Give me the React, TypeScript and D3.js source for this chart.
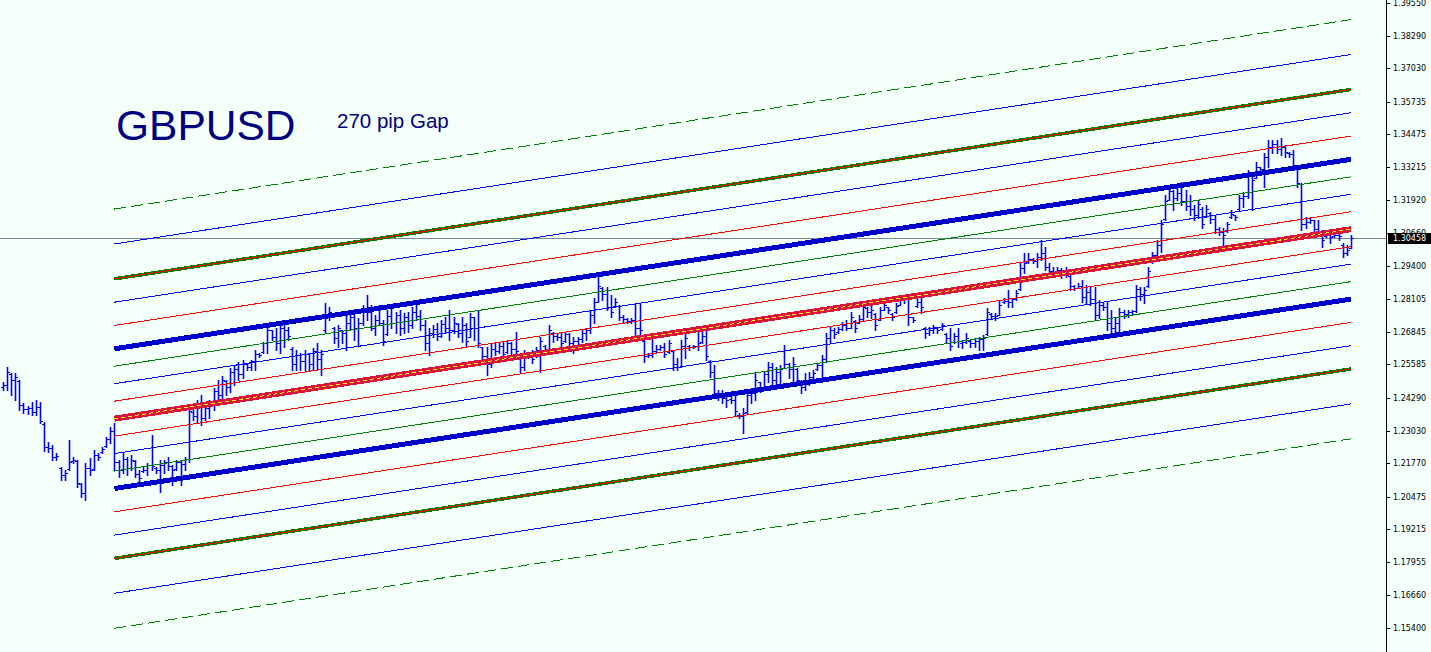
import * as d3 from 'd3';

// GBPUSD daily bars (oldest first)
const opens = [
  1.2470,1.2480,1.2520,1.2500,1.2495,1.2400,1.2385,1.2390,1.2375,1.2395,1.2330,1.2240,1.2235,1.2200,1.2160,1.2130,1.2155,1.2185,1.2185,1.2095,1.2060,1.2160,1.2155,1.2210,1.2220,1.2245,1.2270,1.2300,
  1.2180,1.2150,1.2195,1.2160,1.2185,1.2135,1.2145,1.2150,1.2170,1.2160,1.2150,1.2170,1.2180,1.2165,1.2155,1.2180,1.2175,1.2195,1.2375,1.2360,
  1.2410,1.2350,1.2390,1.2410,1.2455,1.2440,1.2495,1.2470,1.2530,1.2540,1.2520,1.2560,1.2550,1.2570,1.2600,1.2605,1.2640,1.2690,1.2665,1.2640,1.2700,1.2690,1.2620,1.2560,1.2595,1.2570,1.2600,1.2560,1.2610,1.2580,1.2690,1.2750,1.2700,1.2660,1.2690,1.2680,1.2720,1.2740,1.2700,1.2720,1.2770,1.2760,1.2700,1.2730,1.2720,1.2675,1.2745,1.2720,
  1.2750,1.2700,1.2740,1.2710,1.2760,1.2745,1.2710,1.2640,1.2680,1.2695,1.2670,1.2715,1.2700,1.2690,1.2715,1.2680,1.2710,1.2665,1.2740,1.2700,
  1.2625,1.2590,1.2560,1.2620,1.2610,1.2630,1.2605,1.2640,1.2620,1.2600,1.2550,1.2590,1.2600,1.2590,1.2615,1.2630,1.2620,1.2680,1.2670,1.2665,
  1.2650,1.2675,1.2640,1.2650,1.2655,1.2680,1.2690,1.2750,1.2800,1.2855,1.2830,1.2780,1.2785,1.2785,1.2740,1.2735,1.2725,1.2730,1.2700,1.2650,
  1.2590,1.2595,1.2610,1.2620,1.2625,1.2605,1.2610,1.2560,1.2550,1.2630,1.2630,1.2625,
  1.2630,1.2645,1.2670,1.2570,1.2530,1.2450,1.2440,1.2430,1.2425,1.2420,1.2365,1.2360,1.2375,1.2440,1.2450,1.2490,1.2470,1.2520,1.2550,1.2500,
  1.2530,1.2545,1.2560,1.2540,1.2540,1.2495,1.2470,1.2500,1.2510,1.2540,1.2555,1.2580,1.2660,1.2690,1.2685,1.2695,1.2710,1.2700,1.2725,1.2720,
  1.2735,1.2775,1.2760,1.2755,1.2730,1.2770,1.2780,1.2755,1.2760,1.2790,1.2810,1.2815,1.2740,1.2785,1.2800,1.2700,1.2680,1.2690,1.2700,1.2695,
  1.2675,1.2660,1.2645,1.2670,1.2640,1.2645,1.2650,1.2640,1.2650,1.2655,1.2675,1.2755,
  1.2745,1.2750,1.2800,1.2805,1.2800,1.2810,1.2850,1.2930,1.2955,1.2965,1.2960,1.2975,1.2990,1.2935,1.2920,1.2915,1.2925,1.2905,1.2900,1.2860,
  1.2855,1.2860,1.2820,1.2840,1.2810,1.2750,1.2790,1.2780,1.2720,1.2700,1.2720,1.2760,1.2755,1.2760,1.2765,1.2850,1.2830,1.2860,1.2955,1.2980,1.3020,
  1.3120,1.3195,1.3230,1.3200,1.3220,1.3190,1.3170,1.3160,1.3135,
  1.3160,1.3130,1.3145,1.3120,1.3080,1.3070,1.3075,1.3130,1.3135,1.3160,1.3200,1.3210,1.3285,1.3280,1.3320,1.3315,1.3360,1.3400,1.3410,1.3390,
  1.3400,1.3375,1.3370,1.3315,1.3255,1.3100,1.3110,1.3115,1.3080,1.3070,1.3055,1.3060,1.3055,1.3060,1.3020,1.2990,1.3010,
];
const highs = [
  1.2491,1.2549,1.2526,1.2526,1.2499,1.2410,1.2398,1.2414,1.2421,1.2414,1.2336,1.2259,1.2247,1.2217,1.2163,1.2151,1.2267,1.2201,1.2189,1.2101,1.2178,1.2197,1.2228,1.2217,1.2240,1.2279,1.2317,1.2332,
  1.2189,1.2217,1.2201,1.2209,1.2189,1.2151,1.2163,1.2178,1.2286,1.2163,1.2189,1.2189,1.2201,1.2170,1.2189,1.2189,1.2201,1.2394,1.2383,1.2421,
  1.2441,1.2402,1.2421,1.2468,1.2499,1.2514,1.2499,1.2545,1.2557,1.2568,1.2576,1.2564,1.2576,1.2615,1.2603,1.2646,1.2704,1.2692,1.2700,1.2723,1.2719,1.2704,1.2626,1.2615,1.2603,1.2615,1.2603,1.2622,1.2642,1.2615,1.2796,1.2781,1.2704,1.2711,1.2692,1.2750,1.2769,1.2750,1.2738,1.2788,1.2827,1.2788,1.2750,1.2788,1.2730,1.2769,1.2777,1.2761,
  1.2769,1.2757,1.2761,1.2781,1.2796,1.2769,1.2730,1.2700,1.2711,1.2719,1.2730,1.2742,1.2769,1.2742,1.2719,1.2742,1.2719,1.2757,1.2742,1.2769,
  1.2626,1.2626,1.2642,1.2642,1.2646,1.2646,1.2653,1.2646,1.2684,1.2603,1.2615,1.2607,1.2615,1.2626,1.2665,1.2634,1.2711,1.2684,1.2680,1.2684,
  1.2684,1.2680,1.2665,1.2665,1.2692,1.2700,1.2769,1.2815,1.2897,1.2858,1.2858,1.2827,1.2815,1.2788,1.2750,1.2738,1.2738,1.2796,1.2796,1.2653,
  1.2603,1.2672,1.2634,1.2634,1.2642,1.2653,1.2615,1.2584,1.2653,1.2684,1.2634,1.2634,
  1.2692,1.2692,1.2704,1.2576,1.2557,1.2460,1.2460,1.2448,1.2452,1.2448,1.2371,1.2391,1.2448,1.2460,1.2526,1.2491,1.2530,1.2568,1.2564,1.2549,
  1.2557,1.2634,1.2564,1.2588,1.2545,1.2499,1.2526,1.2530,1.2537,1.2564,1.2595,1.2680,1.2704,1.2700,1.2704,1.2723,1.2730,1.2761,1.2730,1.2750,
  1.2796,1.2781,1.2788,1.2757,1.2781,1.2800,1.2781,1.2757,1.2796,1.2819,1.2827,1.2815,1.2742,1.2827,1.2839,1.2704,1.2704,1.2711,1.2704,1.2719,
  1.2680,1.2700,1.2680,1.2700,1.2653,1.2680,1.2653,1.2661,1.2665,1.2672,1.2777,1.2757,
  1.2757,1.2808,1.2815,1.2846,1.2815,1.2846,1.2951,1.2989,1.2989,1.2970,1.2989,1.3040,1.3013,1.2951,1.2935,1.2935,1.2931,1.2935,1.2905,1.2866,
  1.2873,1.2885,1.2866,1.2858,1.2858,1.2808,1.2800,1.2800,1.2769,1.2738,1.2777,1.2769,1.2769,1.2769,1.2866,1.2858,1.2858,1.2935,1.2993,1.3040,1.3117,
  1.3214,1.3252,1.3233,1.3240,1.3264,1.3233,1.3214,1.3175,1.3194,
  1.3167,1.3175,1.3148,1.3136,1.3090,1.3086,1.3109,1.3156,1.3136,1.3214,1.3225,1.3310,1.3291,1.3341,1.3322,1.3376,1.3426,1.3426,1.3426,1.3434,
  1.3407,1.3380,1.3387,1.3318,1.3260,1.3129,1.3129,1.3117,1.3117,1.3078,1.3071,1.3078,1.3078,1.3078,1.3028,1.3020,1.3059,
];
const lows = [
  1.2460,1.2460,1.2441,1.2421,1.2383,1.2371,1.2367,1.2363,1.2363,1.2332,1.2224,1.2220,1.2189,1.2189,1.2112,1.2112,1.2151,1.2178,1.2085,1.2047,1.2035,1.2132,1.2151,1.2189,1.2217,1.2240,1.2255,1.2151,
  1.2124,1.2139,1.2132,1.2151,1.2124,1.2101,1.2143,1.2132,1.2151,1.2139,1.2066,1.2139,1.2151,1.2093,1.2151,1.2093,1.2151,1.2182,1.2344,1.2336,
  1.2325,1.2344,1.2352,1.2383,1.2421,1.2429,1.2441,1.2452,1.2479,1.2499,1.2506,1.2537,1.2537,1.2537,1.2588,1.2603,1.2603,1.2653,1.2615,1.2603,1.2626,1.2653,1.2537,1.2537,1.2537,1.2537,1.2537,1.2537,1.2537,1.2518,1.2680,1.2730,1.2642,1.2626,1.2642,1.2615,1.2692,1.2653,1.2634,1.2711,1.2730,1.2692,1.2672,1.2711,1.2634,1.2672,1.2700,1.2680,
  1.2672,1.2680,1.2684,1.2700,1.2730,1.2692,1.2615,1.2595,1.2665,1.2653,1.2665,1.2680,1.2653,1.2680,1.2665,1.2646,1.2626,1.2665,1.2653,1.2626,
  1.2568,1.2518,1.2549,1.2595,1.2603,1.2588,1.2603,1.2595,1.2603,1.2530,1.2537,1.2584,1.2564,1.2588,1.2530,1.2603,1.2615,1.2646,1.2653,1.2615,
  1.2646,1.2622,1.2603,1.2626,1.2646,1.2653,1.2680,1.2719,1.2800,1.2808,1.2769,1.2742,1.2781,1.2730,1.2719,1.2719,1.2719,1.2672,1.2672,1.2568,
  1.2588,1.2588,1.2607,1.2615,1.2588,1.2603,1.2537,1.2537,1.2549,1.2584,1.2615,1.2622,
  1.2615,1.2642,1.2576,1.2510,1.2433,1.2421,1.2410,1.2394,1.2410,1.2363,1.2352,1.2294,1.2371,1.2410,1.2421,1.2452,1.2468,1.2491,1.2472,1.2479,
  1.2479,1.2545,1.2506,1.2487,1.2491,1.2448,1.2460,1.2479,1.2499,1.2537,1.2499,1.2568,1.2642,1.2661,1.2680,1.2692,1.2692,1.2700,1.2684,1.2719,
  1.2730,1.2742,1.2738,1.2692,1.2730,1.2769,1.2757,1.2730,1.2757,1.2788,1.2796,1.2711,1.2723,1.2781,1.2757,1.2661,1.2672,1.2680,1.2680,1.2692,
  1.2642,1.2615,1.2642,1.2626,1.2622,1.2642,1.2626,1.2626,1.2615,1.2615,1.2672,1.2738,
  1.2730,1.2750,1.2796,1.2781,1.2781,1.2808,1.2846,1.2912,1.2951,1.2951,1.2935,1.2962,1.2924,1.2905,1.2897,1.2912,1.2893,1.2897,1.2846,1.2846,
  1.2854,1.2800,1.2796,1.2788,1.2730,1.2738,1.2769,1.2692,1.2684,1.2684,1.2684,1.2738,1.2742,1.2750,1.2761,1.2808,1.2796,1.2858,1.2951,1.2974,1.2993,
  1.3117,1.3194,1.3156,1.3194,1.3175,1.3156,1.3136,1.3117,1.3125,
  1.3086,1.3129,1.3105,1.3067,1.3059,1.3013,1.3071,1.3125,1.3117,1.3156,1.3167,1.3202,1.3156,1.3279,1.3310,1.3245,1.3322,1.3376,1.3376,1.3368,
  1.3360,1.3360,1.3318,1.3245,1.3078,1.3086,1.3105,1.3067,1.3059,1.3013,1.3051,1.3028,1.3051,1.3040,1.2974,1.2982,1.3009,
];
const closes = [
  1.2480,1.2530,1.2500,1.2510,1.2400,1.2385,1.2390,1.2375,1.2395,1.2340,1.2240,1.2235,1.2200,1.2205,1.2130,1.2140,1.2180,1.2190,1.2100,1.2060,1.2160,1.2150,1.2210,1.2200,1.2230,1.2270,1.2300,1.2180,
  1.2150,1.2195,1.2160,1.2190,1.2135,1.2120,1.2150,1.2170,1.2165,1.2150,1.2170,1.2180,1.2165,1.2150,1.2180,1.2175,1.2195,1.2380,1.2360,1.2410,
  1.2350,1.2390,1.2410,1.2455,1.2440,1.2500,1.2470,1.2530,1.2540,1.2520,1.2560,1.2550,1.2570,1.2600,1.2595,1.2640,1.2690,1.2665,1.2640,1.2700,1.2690,1.2670,1.2560,1.2595,1.2570,1.2600,1.2560,1.2610,1.2580,1.2600,1.2750,1.2760,1.2660,1.2700,1.2680,1.2720,1.2740,1.2700,1.2720,1.2770,1.2760,1.2700,1.2730,1.2720,1.2650,1.2745,1.2720,1.2750,
  1.2700,1.2740,1.2710,1.2760,1.2745,1.2710,1.2640,1.2680,1.2695,1.2670,1.2715,1.2700,1.2690,1.2720,1.2680,1.2710,1.2650,1.2740,1.2700,1.2640,
  1.2590,1.2560,1.2620,1.2610,1.2630,1.2600,1.2640,1.2620,1.2610,1.2550,1.2590,1.2600,1.2580,1.2615,1.2650,1.2620,1.2690,1.2670,1.2665,1.2640,
  1.2675,1.2640,1.2650,1.2655,1.2680,1.2690,1.2750,1.2800,1.2860,1.2830,1.2780,1.2760,1.2800,1.2740,1.2735,1.2725,1.2730,1.2700,1.2690,1.2590,
  1.2595,1.2610,1.2620,1.2625,1.2600,1.2640,1.2560,1.2550,1.2630,1.2660,1.2625,1.2630,
  1.2640,1.2670,1.2590,1.2530,1.2450,1.2440,1.2430,1.2420,1.2420,1.2380,1.2360,1.2370,1.2440,1.2450,1.2500,1.2470,1.2520,1.2550,1.2500,1.2530,
  1.2540,1.2560,1.2540,1.2560,1.2500,1.2470,1.2500,1.2510,1.2525,1.2555,1.2580,1.2660,1.2690,1.2675,1.2695,1.2710,1.2700,1.2740,1.2700,1.2735,
  1.2780,1.2760,1.2770,1.2710,1.2770,1.2790,1.2770,1.2740,1.2785,1.2810,1.2815,1.2740,1.2730,1.2800,1.2780,1.2680,1.2690,1.2700,1.2690,1.2710,
  1.2660,1.2630,1.2670,1.2650,1.2645,1.2660,1.2640,1.2650,1.2655,1.2660,1.2760,1.2745,
  1.2745,1.2790,1.2805,1.2800,1.2810,1.2835,1.2930,1.2950,1.2965,1.2960,1.2975,1.2990,1.2935,1.2920,1.2910,1.2925,1.2905,1.2925,1.2860,1.2855,
  1.2860,1.2820,1.2840,1.2810,1.2750,1.2790,1.2780,1.2720,1.2700,1.2720,1.2760,1.2755,1.2760,1.2765,1.2850,1.2830,1.2845,1.2920,1.2980,1.3020,1.3100,
  1.3190,1.3230,1.3200,1.3220,1.3190,1.3170,1.3160,1.3135,1.3180,
  1.3100,1.3160,1.3120,1.3080,1.3070,1.3060,1.3100,1.3140,1.3130,1.3200,1.3210,1.3290,1.3270,1.3320,1.3315,1.3360,1.3400,1.3410,1.3390,1.3400,
  1.3380,1.3370,1.3330,1.3260,1.3100,1.3110,1.3115,1.3080,1.3070,1.3040,1.3060,1.3050,1.3060,1.3055,1.2990,1.3000,1.30458,
];

// price axis labels on the right
const tickLabels = [
  '1.39550', '1.38290', '1.37030', '1.35735', '1.34475', '1.33215', '1.31920', '1.30660', '1.29400', '1.28105',
  '1.26845', '1.25585', '1.24290', '1.23030', '1.21770', '1.20475', '1.19215', '1.17955', '1.16660', '1.15400',
];
const lastPrice = 1.30458;

// channel: centre line anchors (bar index, price) and level offsets in pips
const channelBars = [27, 326];
const channelMid = [1.2349, 1.3081];
const levelPips = [810, 675, 540, 450, 360, 270, 202.5, 135, 67.5, 0, -67.5, -135, -202.5, -270, -360, -450, -540, -675, -810];

const symbol = 'GBPUSD';
const note = '270 pip Gap';

const W = 1431;
const H = 652;
const axisX = 1386.5;

const BLUE = '#0000FF';
const RED = '#FF0000';
const GREEN = '#008000';

function levelStyle(p: number) {
  const a = Math.abs(p);
  if (a === 810) return [{ stroke: GREEN, w: 1, dash: '12 5' }];
  if (a === 540) return [{ stroke: GREEN, w: 3.5 }, { stroke: RED, w: 1 }];
  if (a === 270) return [{ stroke: '#0000CD', w: 5 }];
  if (a === 0) return [{ stroke: '#DC143C', w: 6 }, { stroke: '#FFFF00', w: 1, dash: '4 3' }];
  if (a === 360 || a === 67.5) return [{ stroke: RED, w: 1 }];
  if (a === 202.5) return [{ stroke: GREEN, w: 1 }];
  return [{ stroke: BLUE, w: 1 }];
}

const App = () => {
  document.body.style.margin = '0';
  const n = Math.min(opens.length, highs.length, lows.length, closes.length);
  const x = d3.scaleLinear().domain([0, 326]).range([2.7, 1351]);
  const y = d3.scaleLinear().domain([1.14473, 1.39667]).range([H, 0]);
  const py = (v: number) => Math.round(y(v)) + 0.5;

  const bars = d3.range(n).map(i => {
    const bx = Math.round(x(i)) + 0.5;
    return (
      <g key={i}>
        <line x1={bx} x2={bx} y1={Math.round(y(highs[i]))} y2={Math.round(y(lows[i])) + 1} strokeWidth={1.6} />
        <line x1={bx - 2.5} x2={bx} y1={py(opens[i])} y2={py(opens[i])} shapeRendering="crispEdges" />
        <line x1={bx} x2={bx + 2.5} y1={py(closes[i])} y2={py(closes[i])} shapeRendering="crispEdges" />
      </g>
    );
  });

  const lines = levelPips.map((p, k) =>
    levelStyle(p).map((s, j) => (
      <line
        key={`${k}-${j}`}
        x1={x(channelBars[0])}
        x2={x(channelBars[1])}
        y1={y(channelMid[0] + p / 10000)}
        y2={y(channelMid[1] + p / 10000)}
        stroke={s.stroke}
        strokeWidth={s.w}
        strokeDasharray={(s as any).dash}
      />
    ))
  );

  const ly = Math.round(y(lastPrice)) + 0.5;

  return (
    <svg width={W} height={H} style={{ position: 'absolute', left: 0, top: 0, display: 'block' }}>
      <rect width={W} height={H} fill="#F5FFFA" />
      <line x1={0} x2={axisX} y1={ly} y2={ly} stroke="#778899" strokeWidth={1} shapeRendering="crispEdges" />
      <g stroke={BLUE} strokeWidth={1}>{bars}</g>
      <g shapeRendering="crispEdges">{lines}</g>
      <text x={116} y={140} fontFamily="Liberation Sans, Arial, sans-serif" fontSize={42.5} fill="#000080">{symbol}</text>
      <text x={337} y={127.5} fontFamily="Liberation Sans, Arial, sans-serif" fontSize={20.5} fill="#000080">{note}</text>
      <line x1={axisX} x2={axisX} y1={0} y2={H} stroke="#000" strokeWidth={1} />
      {tickLabels.map(t => {
        const ty = Math.round(y(+t)) + 0.5;
        return (
          <g key={t}>
            <line x1={axisX} x2={axisX + 3} y1={ty} y2={ty} stroke="#000" shapeRendering="crispEdges" />
            <text x={1393} y={ty} dy="0.35em" fontFamily="DejaVu Sans, sans-serif" fontSize={8} fill="#000">{t}</text>
          </g>
        );
      })}
      <rect x={1388} y={ly - 5.5} width={43} height={11} fill="#000" />
      <text x={1393} y={ly} dy="0.35em" fontFamily="DejaVu Sans, sans-serif" fontSize={8} fill="#fff">{lastPrice.toFixed(5)}</text>
    </svg>
  );
};

export default App;
